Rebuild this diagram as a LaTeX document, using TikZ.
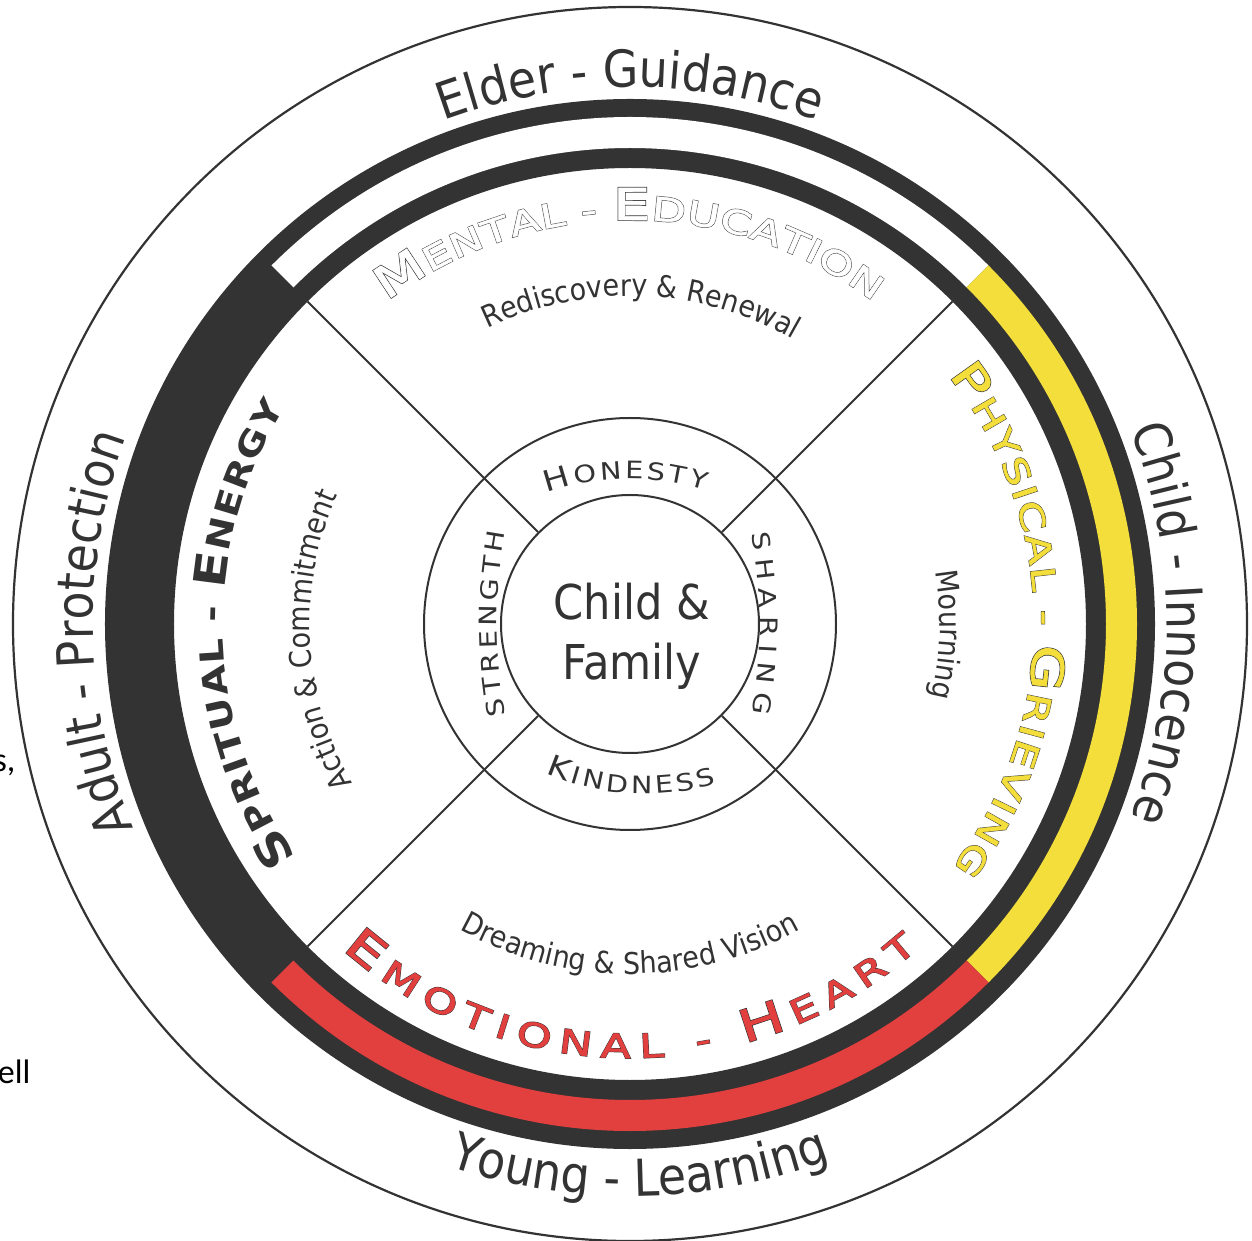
\documentclass[tikz,border=0pt]{standalone}
\usepackage{fontspec}
\usetikzlibrary{decorations.text}
\setmainfont{DejaVu Sans}[FakeStretch=0.9]
\newfontfamily\capsfont{DejaVu Sans}[FakeStretch=1.2]
\newfontfamily\titlefont{DejaVu Sans}[FakeStretch=1.35,FakeBold=1.5]
\newfontfamily\titleedge{DejaVu Sans}[FakeStretch=1.35,FakeBold=4.5]
\newfontfamily\spiritfont{DejaVu Sans Bold}[FakeStretch=1.2]
\newfontfamily\docfont{Carlito}
\definecolor{ink}{HTML}{333333}
\definecolor{sun}{HTML}{F3DE3C}
\definecolor{ember}{HTML}{E23F3F}
\newcommand\fsz[1]{\fontsize{#1}{#1}\selectfont}
\newcommand\outerT{\fsz{51}}
\newcommand\phraseT{\fsz{30}}
% title letters: \T is the face in force for the current pass
\let\T\titlefont
\newcommand\bigT{\T\fsz{44}}
\newcommand\smT{\T\fsz{33}}
\newcommand\bigV{\capsfont\fsz{29}}
\newcommand\smV{\capsfont\fsz{24}}
% plain text along an arc: #1 colour, #2 radius, #3 start, #4 end, #5 text
\newcommand\arclabel[5]{%
  \path[decorate,decoration={text along path,text align=center,
    text color=#1,text={#5}}]
    (#3:#2) arc[start angle=#3,end angle=#4,radius=#2];}
% spread text over a whole arc: #1 colour, #2 radius, #3 start, #4 end, #5 text
\newcommand\spreadlabel[5]{%
  \path[decorate,decoration={text along path,text align=fit to path,
    text color=#1,text={#5}}]
    (#3:#2) arc[start angle=#3,end angle=#4,radius=#2];}
% outlined title: dark heavy pass, then the fill colour on top
\newcommand\titlearc[5]{%
  \let\T\titleedge
  \spreadlabel{ink}{#2}{#3}{#4}{#5}%
  \let\T\titlefont
  \spreadlabel{#1}{#2}{#3}{#4}{#5}}
\tikzset{
  ring/.style={draw=ink,line width=2pt},
  spoke/.style={draw=ink,line width=1.8pt},
  virtue/.style={decorate,decoration={text along path,
    text align=fit to path,text color=ink,text={#1}}},
}
\begin{document}
\begin{tikzpicture}[x=1pt,y=1pt]
\useasboundingbox (-630,-617) rectangle (622,624);
\fill[white] (-630,-617) rectangle (622,624);
\coordinate (hub) at (0,0);

% outer boundary
\draw[ring,line width=2.2pt] (hub) circle[radius=617];

% coloured band with its dark rims
\fill[ink,even odd rule] (hub) circle[radius=525] (hub) circle[radius=456];
\fill[white] (45:476) arc[start angle=45,end angle=135,radius=476]
  -- (135:507) arc[start angle=135,end angle=45,radius=507] -- cycle;
\fill[sun] (-45:476) arc[start angle=-45,end angle=45,radius=476]
  -- (45:507) arc[start angle=45,end angle=-45,radius=507] -- cycle;
\fill[ember] (225:476) arc[start angle=225,end angle=315,radius=476]
  -- (315:507) arc[start angle=315,end angle=225,radius=507] -- cycle;

% inner rings
\node[ring,circle,minimum size=412pt,inner sep=0pt] (virtues) at (hub) {};
\node[ring,circle,minimum size=258pt,inner sep=0pt] (core) at (hub) {};

% spokes
\foreach \a/\n in {45/ne,135/nw,225/sw,315/se}{
  \coordinate (rim-\n) at (\a:456);
  \draw[spoke] (core.\a) -- (rim-\n);
}

% centre
\node[anchor=base,text=ink,font=\fsz{48}] (cf1) at (2,4) {Child \&};
\node[anchor=base,text=ink,font=\fsz{48}] (cf2) at (2,-56) {Family};

% outer life stages
\arclabel{ink}{537}{130}{50}{|\outerT|Elder - Guidance}
\arclabel{ink}{537}{40}{-40}{|\outerT|Child - Innocence}
\arclabel{ink}{537}{221}{141}{|\outerT|Adult - Protection}
\arclabel{ink}{572}{231}{311}{|\outerT|Young - Learning}

% quadrant titles
\titlearc{white}{404}{127}{53}{|\bigT|M|\smT|ENTAL - |\bigT|E|\smT|DUCATION}
\titlearc{sun}{404}{38}{-37}{|\bigT|P|\smT|HYSICAL - |\bigT|G|\smT|RIEVING}
\titlearc{ember}{434}{228.5}{311.5}{|\bigT|E|\smT|MOTIONAL - |\bigT|H|\smT|EART}
\let\T\spiritfont
\spreadlabel{ink}{407}{215}{148}{|\bigT|S|\smT|PRITUAL - |\bigT|E|\smT|NERGY}
\let\T\titlefont

% quadrant phrases
\arclabel{ink}{328}{128}{48}{|\phraseT|Rediscovery {\&} Renewal}
\arclabel{ink}{310}{38}{-42}{|\phraseT|Mourning}
\arclabel{ink}{320}{223}{143}{|\phraseT|Action {\&} Commitment}
\arclabel{ink}{350}{230}{310}{|\phraseT|Dreaming {\&} Shared Vision}

% virtues, on gently curved arcs
\path[shift={(0,-105)},virtue={|\bigV|H|\smV|ONESTY}]
  (109.4:250) arc[start angle=109.4,end angle=72.5,radius=250];
\path[shift={(-373,0)},virtue={|\smV|SHARING}]
  (10.4:503) arc[start angle=10.4,end angle=-10.2,radius=503];
\path[shift={(370,0)},virtue={|\smV|STRENGTH}]
  (190.5:503) arc[start angle=190.5,end angle=169.5,radius=503];
\path[shift={(15,80)},virtue={|\bigV|K|\smV|INDNESS}]
  (246.5:250) arc[start angle=246.5,end angle=286.5,radius=250];

% clipped words of the surrounding page
\node[anchor=base east,text=black,font=\docfont\fsz{34}] (frag1) at (-611,-148) {s,};
\node[anchor=base east,text=black,font=\docfont\fsz{34}] (frag2) at (-596,-459) {ell};
\end{tikzpicture}
\end{document}
